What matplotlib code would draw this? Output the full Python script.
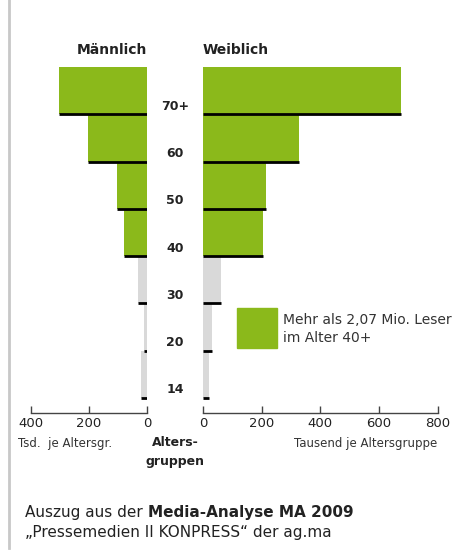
import matplotlib
matplotlib.use("Agg")
import matplotlib.pyplot as plt
from matplotlib.patches import Rectangle
from matplotlib.lines import Line2D
from matplotlib.transforms import blended_transform_factory

# Leser je Altersgruppe in Tausend (MA 2009)
alter = ['14', '20', '30', '40', '50', '60', '70+']
maenner = [22, 10, 30, 81, 102, 203, 303]
frauen = [20, 31, 60, 204, 215, 327, 675]
ticks_links = [400, 200, 0]
ticks_rechts = [0, 200, 400, 600, 800]

gruen = '#8bb91b'
grau = '#d9d9d9'
farben = [gruen if i >= 3 else grau for i in range(len(alter))]

W, H = 458, 550
fig = plt.figure(figsize=(W / 100, H / 100), dpi=100)

def fx(px):
    return px / W

def fy(py):
    return 1 - py / H

ax_h = (413 - 67) / H
ax_l = fig.add_axes([fx(31), fy(413), (147 - 31) / W, ax_h])
ax_r = fig.add_axes([fx(203), fy(413), (437.7 - 203) / W, ax_h])

ypos = list(range(len(alter)))
unten = -15 / 47.3

for ax, werte, lim, ticks in [(ax_l, maenner, (400, 0), ticks_links),
                              (ax_r, frauen, (0, 800), ticks_rechts)]:
    ax.barh(ypos, werte, height=1, align='edge', color=farben, zorder=2)
    ax.hlines(ypos, 0, werte, colors='black', lw=2, zorder=3)
    ax.set_xlim(*lim)
    ax.set_ylim(unten, len(alter))
    ax.set_xticks(ticks)
    ax.set_xticklabels([str(t) for t in ticks])
    ax.set_yticks([])
    for s in ['top', 'left', 'right']:
        ax.spines[s].set_visible(False)
    ax.spines['bottom'].set_color('#444444')
    ax.spines['bottom'].set_linewidth(1)
    ax.tick_params(axis='x', direction='in', length=5, width=1,
                   color='#444444', labelsize=9.5, pad=3, labelcolor='#222222')
    ax.patch.set_alpha(0)

# Altersgruppen in der Mitte
trans = blended_transform_factory(fig.transFigure, ax_r.transData)
for i, a in enumerate(alter):
    fig.text(fx(175), i + 0.17, a, transform=trans, ha='center', va='center',
             fontsize=9, fontweight='bold', color='#222222')

fig.text(fx(147), fy(50), 'Männlich', ha='right', va='center',
         fontsize=10, fontweight='bold', color='#222222')
fig.text(fx(203), fy(50), 'Weiblich', ha='left', va='center',
         fontsize=10, fontweight='bold', color='#222222')

# Legende
fig.add_artist(Rectangle((fx(237), fy(348)), 40 / W, 40 / H,
                         transform=fig.transFigure, color=gruen))
fig.text(fx(283), fy(320), 'Mehr als 2,07 Mio. Leser', ha='left', va='center',
         fontsize=10, color='#333333')
fig.text(fx(283), fy(338), 'im Alter 40+', ha='left', va='center',
         fontsize=10, color='#333333')

# Achsenbeschriftungen
fig.text(fx(18), fy(443), 'Tsd.  je Altersgr.', ha='left', va='center',
         fontsize=8.5, color='#333333')
fig.text(fx(175), fy(443), 'Alters-', ha='center', va='center',
         fontsize=9, fontweight='bold', color='#222222')
fig.text(fx(175), fy(461), 'gruppen', ha='center', va='center',
         fontsize=9, fontweight='bold', color='#222222')
fig.text(fx(437), fy(443), 'Tausend je Altersgruppe', ha='right', va='center',
         fontsize=8.5, color='#333333')

# Quelle
t1 = fig.text(fx(25), fy(513), 'Auszug aus der ', ha='left', va='center',
              fontsize=11, color='#222222')
plt.annotate('Media-Analyse MA 2009', xy=(1, 0), xycoords=t1, ha='left',
             va='bottom', fontsize=11, fontweight='bold', color='#222222',
             annotation_clip=False)
fig.text(fx(25), fy(533), '\u201ePressemedien II KONPRESS\u201c der ag.ma',
         ha='left', va='center', fontsize=11, color='#222222')

# grauer Rand links
fig.add_artist(Line2D([fx(8.5), fx(8.5)], [fy(548), 1], transform=fig.transFigure,
                      color='#c8c8c8', lw=2))

fig.savefig('out.png', dpi=100, facecolor='white')
